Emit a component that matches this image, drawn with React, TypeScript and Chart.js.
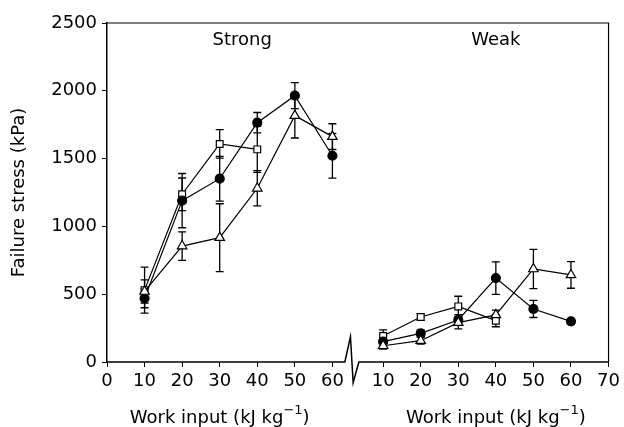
import React, { useEffect, useRef } from 'react';
import { Chart, registerables } from 'chart.js';

Chart.register(...registerables);

// ---- data ----
const STRONG_X = [10, 20, 30, 40, 50, 60];
const STRONG_SQUARE_X = [10, 20, 30, 40];
const WEAK_X = [10, 20, 30, 40, 50, 60];
const WEAK_SQUARE_X = [10, 20, 30, 40];

const STRONG_CIRCLE = [470, 1190, 1352, 1765, 1964, 1521];
const STRONG_CIRCLE_ERR = [70, 200, 165, 75, 96, 165];
const STRONG_SQUARE = [530, 1237, 1608, 1568];
const STRONG_SQUARE_ERR = [170, 120, 105, 170];
const STRONG_TRIANGLE = [520, 855, 917, 1281, 1817, 1662];
const STRONG_TRIANGLE_ERR = [85, 105, 250, 130, 165, 95];

const WEAK_CIRCLE = [150, 211, 310, 619, 391, 300];
const WEAK_CIRCLE_ERR = [40, 25, 40, 120, 63, 20];
const WEAK_SQUARE = [192, 332, 410, 305];
const WEAK_SQUARE_ERR = [45, 25, 75, 45];
const WEAK_TRIANGLE = [120, 157, 290, 347, 686, 642];
const WEAK_TRIANGLE_ERR = [25, 25, 45, 35, 145, 98];

const LEFT_TICKS = [0, 10, 20, 30, 40, 50, 60];
const RIGHT_TICKS = [10, 20, 30, 40, 50, 60, 70];
const Y_TICKS = [0, 500, 1000, 1500, 2000, 2500];

const WEAK_OFFSET = 63.5; // where the weak panel's 0 falls on the shared axis
const X_MAX = 133.5;
const BREAK_AT = 64.8;

const PANEL_NAMES = ['Strong', 'Weak'];
const PANEL_NAME_X = [36, 40];
const PANEL_TITLE_X = [30, 40];
const X_TITLE = 'Work input (kJ kg';
const X_TITLE_SUP = '\u22121';
const X_TITLE_END = ')';
const Y_TITLE = 'Failure stress (kPa)';

const FONT = '"DejaVu Sans", sans-serif';
const FS = 18;

function pts(xs: number[], ys: number[], off: number) {
  return xs.map((x, i) => ({ x: x + off, y: ys[i] }));
}

function ds(data: any[], errs: number[], style: string, fill: string, r: number) {
  return {
    data,
    errors: errs,
    showLine: true,
    borderColor: '#000',
    borderWidth: 1.2,
    tension: 0,
    pointStyle: style,
    pointRadius: r,
    pointBackgroundColor: fill,
    pointBorderColor: '#000',
    pointBorderWidth: 1.2,
  } as any;
}

const decorPlugin = {
  id: 'decor',
  beforeDatasetsDraw(chart: any) {
    const ctx = chart.ctx;
    const ys = chart.scales.y;
    ctx.save();
    ctx.strokeStyle = '#000';
    ctx.lineWidth = 1.3;
    chart.data.datasets.forEach((d: any, di: number) => {
      const meta = chart.getDatasetMeta(di);
      meta.data.forEach((el: any, i: number) => {
        const v = d.data[i].y;
        const e = d.errors[i];
        const y1 = ys.getPixelForValue(v + e);
        const y2 = ys.getPixelForValue(v - e);
        const x = el.x;
        ctx.beginPath();
        ctx.moveTo(x, y1);
        ctx.lineTo(x, y2);
        ctx.moveTo(x - 4, y1);
        ctx.lineTo(x + 4, y1);
        ctx.moveTo(x - 4, y2);
        ctx.lineTo(x + 4, y2);
        ctx.stroke();
      });
    });
    ctx.restore();
  },
  afterDraw(chart: any) {
    const ctx = chart.ctx;
    const { left, right, top, bottom } = chart.chartArea;
    const xs = chart.scales.x;
    ctx.save();
    ctx.strokeStyle = '#000';
    // top and right frame
    ctx.lineWidth = 1.2;
    ctx.beginPath();
    ctx.moveTo(left, top);
    ctx.lineTo(right, top);
    ctx.lineTo(right, bottom);
    ctx.stroke();
    // bottom axis with break
    const bx = xs.getPixelForValue(BREAK_AT);
    ctx.lineWidth = 1.5;
    ctx.beginPath();
    ctx.moveTo(left, bottom);
    ctx.lineTo(bx - 5.6, bottom);
    ctx.lineTo(bx, bottom - 25.3);
    ctx.lineTo(bx + 2.7, bottom + 20.7);
    ctx.lineTo(bx + 8.4, bottom);
    ctx.lineTo(right, bottom);
    ctx.stroke();

    ctx.fillStyle = '#000';
    ctx.font = `${FS}px ${FONT}`;
    ctx.textAlign = 'center';
    ctx.textBaseline = 'alphabetic';
    PANEL_NAMES.forEach((name, i) => {
      const x = xs.getPixelForValue(PANEL_NAME_X[i] + (i === 1 ? WEAK_OFFSET : 0));
      ctx.fillText(name, x, top + 22);
    });

    // x titles
    ctx.textAlign = 'left';
    PANEL_TITLE_X.forEach((v, i) => {
      const cx = xs.getPixelForValue(v + (i === 1 ? WEAK_OFFSET : 0));
      ctx.font = `${FS}px ${FONT}`;
      const w1 = ctx.measureText(X_TITLE).width;
      const w3 = ctx.measureText(X_TITLE_END).width;
      ctx.font = `13px ${FONT}`;
      const w2 = ctx.measureText(X_TITLE_SUP).width;
      let x = cx - (w1 + w2 + w3) / 2;
      const base = 423;
      ctx.font = `${FS}px ${FONT}`;
      ctx.fillText(X_TITLE, x, base);
      x += w1;
      ctx.font = `13px ${FONT}`;
      ctx.fillText(X_TITLE_SUP, x, base - 9);
      x += w2;
      ctx.font = `${FS}px ${FONT}`;
      ctx.fillText(X_TITLE_END, x, base);
    });
    ctx.restore();
  },
};

export default function App() {
  const ref = useRef<HTMLCanvasElement>(null);
  useEffect(() => {
    if (!ref.current) return;
    const chart = new Chart(ref.current, {
      type: 'line',
      data: {
        datasets: [
          ds(pts(STRONG_X, STRONG_TRIANGLE, 0), STRONG_TRIANGLE_ERR, 'triangle', '#fff', 5.5),
          ds(pts(STRONG_X, STRONG_CIRCLE, 0), STRONG_CIRCLE_ERR, 'circle', '#000', 4.5),
          ds(pts(STRONG_SQUARE_X, STRONG_SQUARE, 0), STRONG_SQUARE_ERR, 'rect', '#fff', 4.8),
          ds(pts(WEAK_X, WEAK_TRIANGLE, WEAK_OFFSET), WEAK_TRIANGLE_ERR, 'triangle', '#fff', 5.5),
          ds(pts(WEAK_X, WEAK_CIRCLE, WEAK_OFFSET), WEAK_CIRCLE_ERR, 'circle', '#000', 4.5),
          ds(pts(WEAK_SQUARE_X, WEAK_SQUARE, WEAK_OFFSET), WEAK_SQUARE_ERR, 'rect', '#fff', 4.8),
        ],
      },
      options: {
        animation: false,
        responsive: true,
        maintainAspectRatio: false,
        layout: { padding: { top: 23, right: 12, left: 0, bottom: 0 } },
        plugins: { legend: { display: false }, tooltip: { enabled: false } },
        scales: {
          x: {
            type: 'linear',
            min: 0,
            max: X_MAX,
            afterBuildTicks: (s: any) => {
              s.ticks = [
                ...LEFT_TICKS.map((v) => ({ value: v })),
                ...RIGHT_TICKS.map((v) => ({ value: v + WEAK_OFFSET })),
              ];
            },
            afterFit: (s: any) => {
              s.height = 65;
            },
            ticks: {
              autoSkip: false,
              maxRotation: 0,
              padding: 4,
              color: '#000',
              font: { family: FONT, size: FS },
              callback: (v: any) => String(Math.round(v > 60 ? v - WEAK_OFFSET : v)),
            },
            grid: { drawOnChartArea: false, drawTicks: true, tickLength: 5, color: '#000', lineWidth: 1 },
            border: { display: false },
          },
          y: {
            min: 0,
            max: 2500,
            afterBuildTicks: (s: any) => {
              s.ticks = Y_TICKS.map((v) => ({ value: v }));
            },
            afterFit: (s: any) => {
              s.width = 107;
            },
            ticks: {
              padding: 5,
              color: '#000',
              font: { family: FONT, size: FS },
              callback: (v: any) => String(v),
            },
            grid: { drawOnChartArea: false, drawTicks: true, tickLength: 5, color: '#000', lineWidth: 1 },
            border: { display: true, color: '#000', width: 1.5 },
            title: {
              display: true,
              text: Y_TITLE,
              color: '#000',
              font: { family: FONT, size: FS },
              padding: { top: 9, bottom: 0 },
            },
          },
        },
      },
      plugins: [decorPlugin],
    } as any);
    return () => chart.destroy();
  }, []);
  return (
    <div style={{ position: 'absolute', left: 0, top: 0, width: 624, height: 427 }}>
      <canvas ref={ref} />
    </div>
  );
}
